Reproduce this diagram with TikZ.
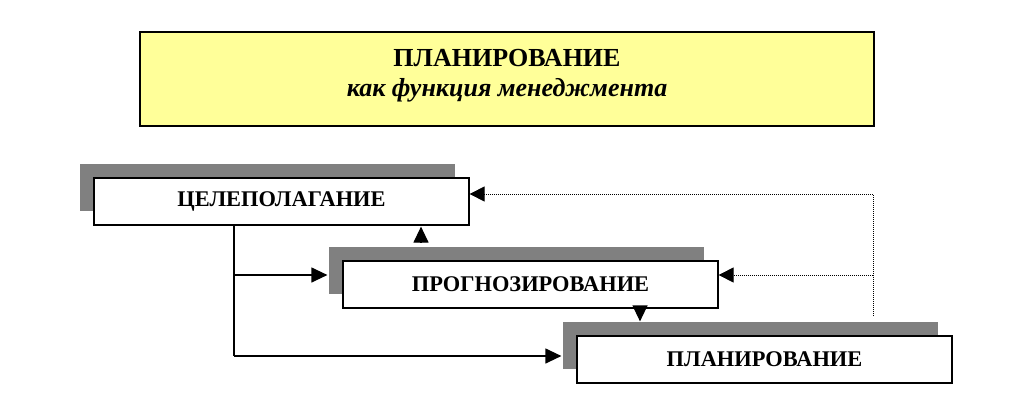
\documentclass[tikz,border=0pt]{standalone}
\usepackage{fontspec}
\setmainfont{Liberation Serif}
\usetikzlibrary{positioning, shadows, arrows.meta}

\definecolor{headyellow}{HTML}{FFFF99}
\definecolor{shadowgray}{HTML}{808080}

\tikzset{
  stage/.style={draw, line width=1.2pt, fill=white, minimum width=375pt,
    minimum height=47pt, inner sep=0pt,
    font=\fontsize{22.4}{26}\selectfont\bfseries,
    drop shadow={shadow xshift=-14pt, shadow yshift=14pt, fill=shadowgray, opacity=1}},
  link/.style={line width=1.2pt, -{Triangle[length=16pt,width=15pt]}},
  feedback/.style={line width=0.8pt, dash pattern=on 1pt off 1pt,
    -{Triangle[length=15pt,width=15pt]}}
}

\begin{document}
\begin{tikzpicture}[x=1pt, y=-1pt]
  \useasboundingbox (0,0) rectangle (1024,409);

  \node[draw, line width=1.2pt, fill=headyellow, minimum width=734pt,
    minimum height=94pt, align=center, font=\fontsize{26}{30}\selectfont\bfseries]
    (head) at (507,79) {ПЛАНИРОВАНИЕ\\\itshape как функция менеджмента\\[-17pt]};

  % stages
  \node[stage] (goal) at (281.5,201.5) {ЦЕЛЕПОЛАГАНИЕ};
  \node[stage] (forecast) at (530.5,284.5) {ПРОГНОЗИРОВАНИЕ};
  \node[stage] (plan) at (764.5,359.5) {ПЛАНИРОВАНИЕ};

  % forward links
  \coordinate (fork) at (234,275);
  \coordinate (foot) at (234,356);
  \draw[line width=1.2pt] (goal.south -| fork) -- (foot);
  \draw[link] (fork) -- ([xshift=-15pt]forecast.west |- fork);
  \draw[link] (foot) -- ([xshift=-15pt]plan.west |- foot);

  \coordinate (up from) at ([shift={(-109.5pt,18pt)}]forecast.north);
  \draw[link] (up from) -- ([yshift=-1pt]up from |- goal.south);
  \coordinate (down from) at ([xshift=109.5pt]forecast.south);
  \coordinate (down to) at ([yshift=14pt]plan.north);
  \draw[link] (down from) -- (down from |- down to);

  % feedback
  \coordinate (loop foot) at (873,316);
  \coordinate (loop top) at (873,194);
  \coordinate (loop mid) at (873,275);
  \draw[feedback] (loop foot) -- (loop top) -- (goal.east |- loop top);
  \draw[feedback] (loop mid) -- (forecast.east |- loop mid);
\end{tikzpicture}
\end{document}
